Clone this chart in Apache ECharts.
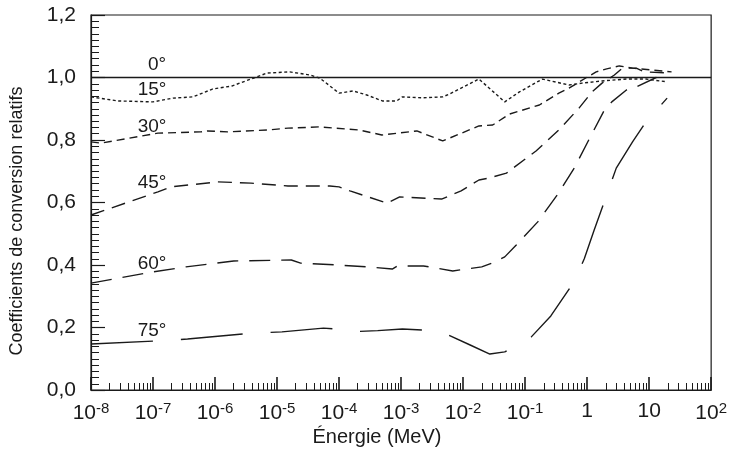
<!DOCTYPE html>
<html>
<head>
<meta charset="utf-8">
<script src="https://cdn.jsdelivr.net/npm/echarts@6/dist/echarts.min.js"></script>
<style>
  html, body { margin: 0; padding: 0; background: #fff; }
  #chart { width: 730px; height: 467px; }
</style>
</head>
<body>
<div id="chart"></div>
<script>
// énergie (MeV), coefficient relatif
var deg0 = [[1e-8, 1.0], [100, 1.0]];
var deg15 = [[1e-8, 0.938], [2.7e-8, 0.925], [1e-7, 0.922], [2.1e-7, 0.934], [4.4e-7, 0.938],
  [9.1e-7, 0.963], [1.9e-6, 0.973], [2.5e-6, 0.982], [5.2e-6, 1.005], [6.8e-6, 1.014],
  [1.6e-5, 1.018], [3.4e-5, 1.008], [4.9e-5, 0.998], [1.0e-4, 0.95], [1.7e-4, 0.957],
  [2.8e-4, 0.944], [5.0e-4, 0.925], [8.5e-4, 0.925], [1.05e-3, 0.938], [2.2e-3, 0.935],
  [4.7e-3, 0.938], [6.0e-3, 0.947], [1.8e-2, 0.995], [4.7e-2, 0.922], [8.1e-2, 0.954],
  [0.19, 0.995], [0.51, 0.976], [0.83, 0.982], [1.74, 0.989], [4.3, 0.995], [8.9, 0.995],
  [19.5, 0.986]];
var deg30 = [[1e-8, 0.794], [1.45e-8, 0.79], [1.2e-7, 0.822], [5.9e-7, 0.826], [7.6e-7, 0.829],
  [1.6e-6, 0.826], [7.1e-6, 0.832], [1.5e-5, 0.838], [4.9e-5, 0.842], [2.1e-4, 0.832],
  [4.9e-4, 0.816], [1.8e-3, 0.829], [4.7e-3, 0.797], [1.8e-2, 0.845], [3.0e-2, 0.848],
  [5.6e-2, 0.883], [0.17, 0.912], [0.35, 0.95], [0.51, 0.966], [0.98, 1.0], [1.4, 1.018],
  [2.0, 1.027], [3.3, 1.037], [5.4, 1.03], [11, 1.024], [23, 1.018]];
var deg45 = [[1e-8, 0.56], [1.2e-7, 0.634], [1.95e-7, 0.65], [1.1e-6, 0.666], [3.8e-6, 0.662],
  [1.5e-5, 0.653], [7.1e-5, 0.653], [1.0e-4, 0.65], [1.5e-4, 0.637], [6.0e-4, 0.598],
  [9.5e-4, 0.618], [4.5e-3, 0.611], [9.3e-3, 0.637], [1.8e-2, 0.672], [2.6e-2, 0.678],
  [5.0e-2, 0.694], [0.15, 0.765], [0.35, 0.832], [0.74, 0.902], [1.2, 0.954], [1.74, 0.982],
  [2.75, 1.008], [3.7, 1.03], [6.2, 1.03], [8.3, 1.018], [19.5, 1.015]];
var deg60 = [[1e-8, 0.342], [1.0e-7, 0.378], [3.4e-7, 0.394], [2.0e-6, 0.413], [1.7e-5, 0.416],
  [2.4e-5, 0.406], [9.5e-5, 0.40], [2.9e-4, 0.394], [7.2e-4, 0.387], [8.7e-4, 0.397],
  [2.3e-3, 0.397], [6.8e-3, 0.381], [2.0e-2, 0.394], [2.9e-2, 0.406], [4.7e-2, 0.426],
  [7.2e-2, 0.464], [0.16, 0.538], [0.33, 0.624], [0.62, 0.71], [1.1, 0.806], [1.9, 0.896],
  [2.5, 0.922], [4.3, 0.96], [6.2, 0.97], [13, 1.0], [17, 1.01]];
var deg75 = [[1e-8, 0.147], [1.2e-7, 0.157], [3.6e-7, 0.163], [4.1e-6, 0.182], [1.2e-5, 0.186],
  [5.6e-5, 0.198], [9.5e-5, 0.195], [1.4e-4, 0.186], [4.2e-4, 0.19], [1.05e-3, 0.195],
  [2.2e-3, 0.192], [4.8e-3, 0.183], [1.3e-2, 0.144], [2.7e-2, 0.115], [4.7e-2, 0.122],
  [0.126, 0.17], [0.26, 0.237], [0.62, 0.347], [0.9, 0.42], [1.3, 0.512], [2.95, 0.71],
  [5.4, 0.794], [8.9, 0.858], [19.5, 0.934]];

var angleLabels = ['0°', '15°', '30°', '45°', '60°', '75°'];
var decades = [1e-8, 1e-7, 1e-6, 1e-5, 1e-4, 1e-3, 1e-2, 1e-1, 1, 10, 100];

var minorTicks = [];
for (var k = -8; k < 2; k++) {
  for (var m = 2; m <= 9; m++) minorTicks.push(m * Math.pow(10, k));
}

var ink = '#1a1a1a';
var font = '"Liberation Sans", Arial, sans-serif';

var myChart = echarts.init(document.getElementById('chart'), null, { renderer: 'canvas' });

function xLabel(v) {
  var p = Math.round(Math.log10(v));
  if (p === 0) return '1';
  if (p === 1) return '10';
  return '10{s|' + p + '}';
}

function mkSeries(name, data, dash) {
  return {
    name: name,
    type: 'line',
    data: data,
    showSymbol: false,
    symbol: 'none',
    silent: true,
    lineStyle: { color: ink, width: 1.4, type: dash }
  };
}

// positions des étiquettes d'angle (pixels)
var labelPos = [[157, 65], [152, 90], [152, 127], [152, 183], [152, 264], [152, 331]];

myChart.setOption({
  animation: false,
  backgroundColor: '#fff',
  grid: {
    left: 91, right: 18, top: 15, bottom: 77,
    show: true, borderColor: ink, borderWidth: 1.2, backgroundColor: 'transparent'
  },
  xAxis: [
    {
      type: 'log', logBase: 10, min: 1e-8, max: 100,
      axisLine: { show: true, lineStyle: { color: ink, width: 1.2 } },
      axisTick: { show: true, inside: true, length: 13, customValues: decades, lineStyle: { color: ink, width: 1.6 } },
      axisLabel: {
        customValues: decades, margin: 11, color: ink, fontFamily: font, fontSize: 21,
        formatter: xLabel,
        rich: { s: { fontSize: 15, fontFamily: font, color: ink, padding: [0, 0, 10, 0] } }
      },
      splitLine: { show: false }
    },
    {
      type: 'log', logBase: 10, min: 1e-8, max: 100, position: 'bottom',
      axisLine: { show: false },
      axisTick: { show: true, inside: true, length: 7, customValues: minorTicks, lineStyle: { color: ink, width: 1 } },
      axisLabel: { show: false },
      splitLine: { show: false }
    }
  ],
  yAxis: {
    type: 'value', min: 0, max: 1.2, interval: 0.2,
    axisLine: { show: true, lineStyle: { color: ink, width: 1.2 } },
    axisTick: { show: true, inside: true, length: 14, lineStyle: { color: ink, width: 1.2 } },
    minorTick: { show: true, splitNumber: 10, length: 8, lineStyle: { color: ink, width: 1 } },
    axisLabel: {
      margin: 15, color: ink, fontFamily: font, fontSize: 21,
      formatter: function (v) { return v.toFixed(1).replace('.', ','); }
    },
    splitLine: { show: false }
  },
  series: [
    mkSeries('0°', deg0, 'solid'),
    mkSeries('15°', deg15, [3, 2.5]),
    mkSeries('30°', deg30, [8, 5]),
    mkSeries('45°', deg45, [14, 8]),
    mkSeries('60°', deg60, [21, 11]),
    mkSeries('75°', deg75, [62, 28])
  ],
  graphic: angleLabels.map(function (t, i) {
    return {
      type: 'text', x: labelPos[i][0], y: labelPos[i][1],
      style: { text: t, fill: ink, font: '19px ' + font, textAlign: 'center', textVerticalAlign: 'middle' }
    };
  }).concat([
    {
      type: 'text', x: 377, y: 437,
      style: { text: 'Énergie (MeV)', fill: ink, font: '20px ' + font, textAlign: 'center', textVerticalAlign: 'middle' }
    },
    {
      type: 'text', x: 17, y: 221, rotation: Math.PI / 2,
      style: { text: 'Coefficients de conversion relatifs', fill: ink, font: '18px ' + font, textAlign: 'center', textVerticalAlign: 'middle' }
    }
  ])
});
</script>
</body>
</html>
